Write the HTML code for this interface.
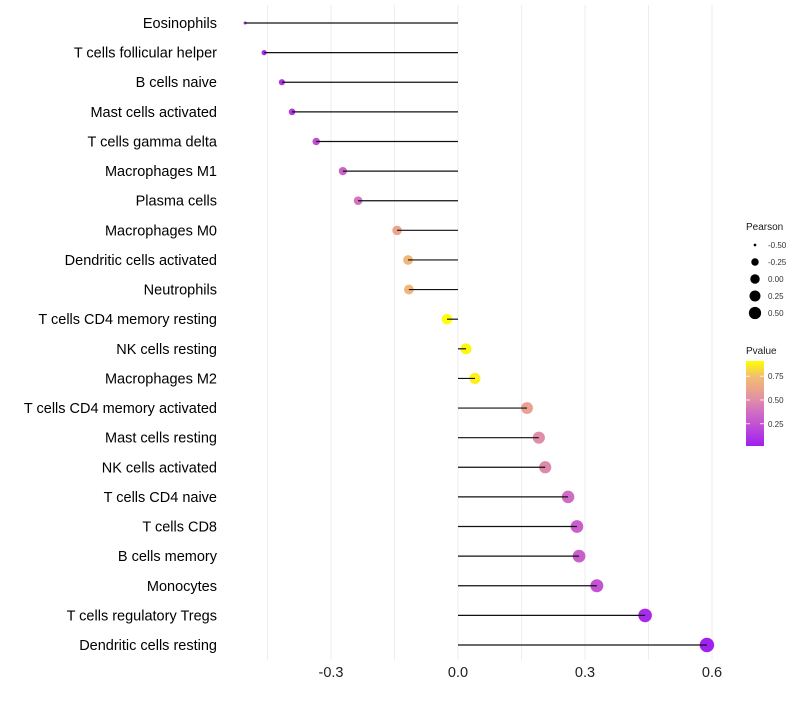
<!DOCTYPE html>
<html><head><meta charset="utf-8"><style>
body{margin:0;background:#fff}
svg{font-family:"Liberation Sans",sans-serif}
</style></head><body>
<svg id="chart" width="800" height="700"></svg>
<script>
const categories=["Eosinophils","T cells follicular helper","B cells naive","Mast cells activated","T cells gamma delta","Macrophages M1","Plasma cells","Macrophages M0","Dendritic cells activated","Neutrophils","T cells CD4 memory resting","NK cells resting","Macrophages M2","T cells CD4 memory activated","Mast cells resting","NK cells activated","T cells CD4 naive","T cells CD8","B cells memory","Monocytes","T cells regulatory  Tregs ","Dendritic cells resting"];
const pearson=[-0.503,-0.458,-0.416,-0.392,-0.335,-0.272,-0.236,-0.144,-0.118,-0.116,-0.026,0.019,0.040,0.163,0.191,0.206,0.260,0.281,0.286,0.328,0.442,0.588];
const pvalue=[0.02,0.06,0.10,0.12,0.22,0.32,0.40,0.62,0.72,0.72,0.92,0.90,0.88,0.60,0.50,0.48,0.36,0.30,0.30,0.24,0.05,0.01];
const xTicks=[-0.3,0,0.3,0.6];
const xTickLabels=["-0.3","0.0","0.3","0.6"];
const sizeLegend=[-0.5,-0.25,0,0.25,0.5];
const pLegend=[0.25,0.5,0.75];

const NS="http://www.w3.org/2000/svg";
const svg=document.getElementById('chart');
function mk(t,a,p){const e=document.createElementNS(NS,t);for(const k in a)e.setAttribute(k,a[k]);(p||svg).appendChild(e);return e;}
const X=v=>458+v*423.3;
const Y=i=>23+i*(645-23)/(categories.length-1);
const R=v=>1.5+Math.sqrt(Math.max(0,v+0.5)*30);
const stops=[[0.0,[160,32,240]],[0.25,[196,85,210]],[0.4,[213,116,190]],[0.5,[224,142,168]],[0.62,[235,165,140]],[0.75,[242,189,114]],[0.92,[255,255,0]]];
function col(p){p=Math.max(0,Math.min(0.92,p));for(let i=1;i<stops.length;i++){if(p<=stops[i][0]){const a=stops[i-1],b=stops[i],t=(p-a[0])/(b[0]-a[0]);return 'rgb('+a[1].map((c,j)=>Math.round(c+(b[1][j]-c)*t)).join(',')+')';}}return 'rgb(255,255,0)';}

for(let v=-0.45;v<=0.61;v+=0.15){const g=mk('line',{x1:X(v),x2:X(v),y1:5,y2:660,stroke:'#eeeeee','stroke-width':1});

}
categories.forEach((c,i)=>{
const t=mk('text',{x:217,y:Y(i)+5,'text-anchor':'end','font-size':14.5,fill:'#000'});t.textContent=c;


const pt=mk('circle',{cx:X(pearson[i]),cy:Y(i),r:R(pearson[i]),fill:col(pvalue[i])});


const ln=mk('line',{x1:X(0),x2:X(pearson[i]),y1:Y(i),y2:Y(i),stroke:'#111','stroke-width':1.2});


});
xTicks.forEach((v,i)=>{const t=mk('text',{x:X(v),y:677,'text-anchor':'middle','font-size':14.5,fill:'#222'});t.textContent=xTickLabels[i];

});
const lt=mk('text',{x:746,y:230,'font-size':10,fill:'#1a1a1a'});lt.textContent='Pearson';


sizeLegend.forEach((v,i)=>{const y=245+i*17;
const c=mk('circle',{cx:755,cy:y,r:R(v)*0.88,fill:'#000'});


const t=mk('text',{x:768,y:y+3,'font-size':8,fill:'#333'});t.textContent=v.toFixed(2);

});
const pt2=mk('text',{x:746,y:354,'font-size':10,fill:'#1a1a1a'});pt2.textContent='Pvalue';


const defs=mk('defs',{});const lg=mk('linearGradient',{id:'pg',x1:0,y1:1,x2:0,y2:0},defs);
stops.forEach(s=>mk('stop',{offset:(s[0]/0.92),'stop-color':'rgb('+s[1].join(',')+')'},lg));
const bar=mk('rect',{x:746,y:361,width:18,height:85,fill:'url(#pg)'});


const PY=p=>446-(p-0.016)/(0.91-0.016)*85;
pLegend.forEach(p=>{const y=PY(p);
mk('line',{x1:746,x2:750,y1:y,y2:y,stroke:'#fff','stroke-width':0.8});
mk('line',{x1:760,x2:764,y1:y,y2:y,stroke:'#fff','stroke-width':0.8});
const t=mk('text',{x:768,y:y+3,'font-size':8,fill:'#333'});t.textContent=p.toFixed(2);

});
</script>
</body></html>
